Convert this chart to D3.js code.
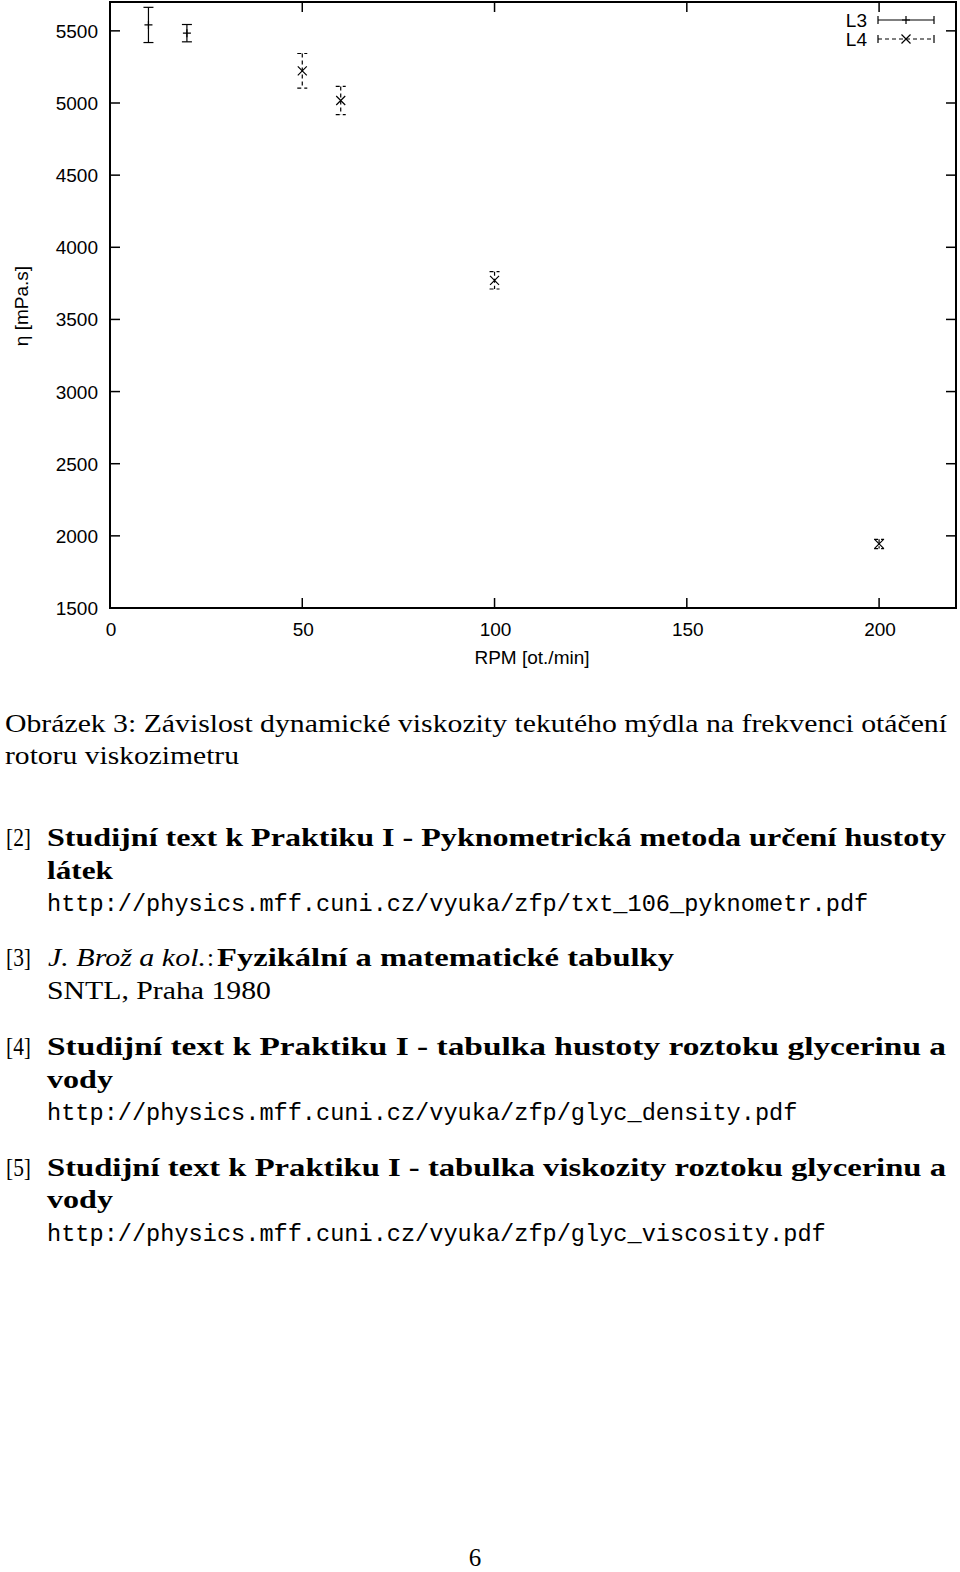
<!DOCTYPE html>
<html><head><meta charset="utf-8">
<script src="https://cdn.jsdelivr.net/npm/d3@7"></script>
<style>
html,body{margin:0;padding:0;background:#fff;}
svg{display:block;}
</style></head>
<body>
<svg id="page" width="960" height="1572"></svg>
<script>
// ---- data ----
const rpmL3 = [10, 20];
const etaL3 = [5541, 5484];
const errL3 = [122, 60];
const rpmL4 = [50, 60, 100, 200];
const etaL4 = [5223, 5017, 3771, 1944];
const errL4 = [120, 98, 60, 32];
const xTicks = [0, 50, 100, 150, 200];
const yTicks = [1500, 2000, 2500, 3000, 3500, 4000, 4500, 5000, 5500];
const seriesNames = ["L3", "L4"];
const xLabel = "RPM [ot./min]";
const yLabel = "η [mPa.s]";

const svg = d3.select("#page");
const L = 110, R = 956, T = 2, B = 608;
const x = d3.scaleLinear().domain([0, 220]).range([L, R]);
const y = d3.scaleLinear().domain([1500, 5700]).range([B, T]);

const g = svg.append("g");
const tickLen = 10;
const sans = "'Liberation Sans', Arial, sans-serif";

// ticks (inner, mirrored)
xTicks.forEach(v => {
  g.append("line").attr("x1", x(v)).attr("x2", x(v)).attr("y1", B).attr("y2", B - tickLen).attr("stroke", "#000").attr("stroke-width", 1.5);
  g.append("line").attr("x1", x(v)).attr("x2", x(v)).attr("y1", T).attr("y2", T + tickLen).attr("stroke", "#000").attr("stroke-width", 1.5);
  g.append("text").attr("x", x(v) + 1).attr("y", 636).attr("text-anchor", "middle")
    .attr("font-family", sans).attr("font-size", 19).text(v);
});
yTicks.forEach(v => {
  g.append("line").attr("x1", L).attr("x2", L + tickLen).attr("y1", y(v)).attr("y2", y(v)).attr("stroke", "#000").attr("stroke-width", 1.5);
  g.append("line").attr("x1", R).attr("x2", R - tickLen).attr("y1", y(v)).attr("y2", y(v)).attr("stroke", "#000").attr("stroke-width", 1.5);
  g.append("text").attr("x", 98).attr("y", y(v) + 7).attr("text-anchor", "end")
    .attr("font-family", sans).attr("font-size", 19).text(v);
});
// frame
g.append("rect").attr("x", L).attr("y", T).attr("width", R - L).attr("height", B - T)
  .attr("fill", "none").attr("stroke", "#000").attr("stroke-width", 2);

g.append("text").attr("x", 532).attr("y", 664).attr("text-anchor", "middle")
  .attr("font-family", sans).attr("font-size", 19).text(xLabel);
g.append("text").attr("transform", "translate(28,306) rotate(-90)").attr("text-anchor", "middle")
  .attr("font-family", sans).attr("font-size", 19).text(yLabel);

// error bars
function errBar(cx, cy, ytop, ybot, dash) {
  const cap = 5;
  const s = g.append("g").attr("stroke", "#000").attr("stroke-width", 1.2).attr("fill", "none");
  s.append("line").attr("x1", cx).attr("x2", cx).attr("y1", ytop).attr("y2", ybot).attr("stroke-dasharray", dash);
  s.append("line").attr("x1", cx - cap).attr("x2", cx + cap).attr("y1", ytop).attr("y2", ytop).attr("stroke-dasharray", dash);
  s.append("line").attr("x1", cx - cap).attr("x2", cx + cap).attr("y1", ybot).attr("y2", ybot).attr("stroke-dasharray", dash);
}
function plus(cx, cy) {
  const r = 4;
  g.append("path").attr("d", `M${cx - r},${cy}H${cx + r}M${cx},${cy - r}V${cy + r}`).attr("stroke", "#000").attr("stroke-width", 1.2);
}
function cross(cx, cy) {
  const r = 4.5;
  g.append("path").attr("d", `M${cx - r},${cy - r}L${cx + r},${cy + r}M${cx - r},${cy + r}L${cx + r},${cy - r}`).attr("stroke", "#000").attr("stroke-width", 1.2);
}
rpmL3.forEach((r, i) => {
  errBar(x(r), y(etaL3[i]), y(etaL3[i] + errL3[i]), y(etaL3[i] - errL3[i]), null);
  plus(x(r), y(etaL3[i]));
});
rpmL4.forEach((r, i) => {
  errBar(x(r), y(etaL4[i]), y(etaL4[i] + errL4[i]), y(etaL4[i] - errL4[i]), "4,3");
  cross(x(r), y(etaL4[i]));
});

// legend
const legY = [20, 39];
seriesNames.forEach((n, i) => {
  const yy = legY[i];
  g.append("text").attr("x", 867).attr("y", yy + 7).attr("text-anchor", "end")
    .attr("font-family", sans).attr("font-size", 19).text(n);
  const dash = i === 0 ? null : "4,3";
  const s = g.append("g").attr("stroke", "#000").attr("stroke-width", 1.2);
  s.append("line").attr("x1", 878).attr("x2", 934).attr("y1", yy).attr("y2", yy).attr("stroke-dasharray", dash);
  s.append("line").attr("x1", 878).attr("x2", 878).attr("y1", yy - 4).attr("y2", yy + 4);
  s.append("line").attr("x1", 934).attr("x2", 934).attr("y1", yy - 4).attr("y2", yy + 4);
  if (i === 0) plus(906, yy); else cross(906, yy);
});

// ---- document text ----
const serif = "'Liberation Serif', 'Times New Roman', serif";
const mono = "'Liberation Mono', 'Courier New', monospace";
function t(str, xx, yy, opts) {
  const o = opts || {};
  const el = svg.append("text").attr("x", xx).attr("y", yy)
    .attr("font-family", o.mono ? mono : serif)
    .attr("font-size", o.size || (o.mono ? 23.6 : 25))
    .attr("font-weight", o.bold ? "bold" : "normal")
    .attr("font-style", o.italic ? "italic" : "normal")
    .text(str);
  if (o.w) el.attr("textLength", o.w).attr("lengthAdjust", "spacingAndGlyphs");
  return el;
}
t("Obrázek 3: Závislost dynamické viskozity tekutého mýdla na frekvenci otáčení", 5, 732, {w: 942});
t("rotoru viskozimetru", 5, 764, {w: 234});

t("[2]", 6, 846, {w: 25});
t("Studijní text k Praktiku I - Pyknometrická metoda určení hustoty", 47, 846, {bold: true, w: 899});
t("látek", 47, 879, {bold: true, w: 66});
t("http://physics.mff.cuni.cz/vyuka/zfp/txt_106_pyknometr.pdf", 47, 911, {mono: true});

t("[3]", 6, 966, {w: 25});
t("J. Brož a kol.", 48, 966, {italic: true, w: 158});
t(":", 207, 966);
t("Fyzikální a matematické tabulky", 217, 966, {bold: true, w: 457});
t("SNTL, Praha 1980", 47, 999, {w: 224});

t("[4]", 6, 1055, {w: 25});
t("Studijní text k Praktiku I - tabulka hustoty roztoku glycerinu a", 47, 1055, {bold: true, w: 899});
t("vody", 47, 1088, {bold: true, w: 66});
t("http://physics.mff.cuni.cz/vyuka/zfp/glyc_density.pdf", 47, 1120, {mono: true});

t("[5]", 6, 1176, {w: 25});
t("Studijní text k Praktiku I - tabulka viskozity roztoku glycerinu a", 47, 1176, {bold: true, w: 899});
t("vody", 47, 1208, {bold: true, w: 66});
t("http://physics.mff.cuni.cz/vyuka/zfp/glyc_viscosity.pdf", 47, 1241, {mono: true});

svg.append("text").attr("x", 475).attr("y", 1566).attr("text-anchor", "middle")
  .attr("font-family", serif).attr("font-size", 25).text("6");
</script>
</body></html>
